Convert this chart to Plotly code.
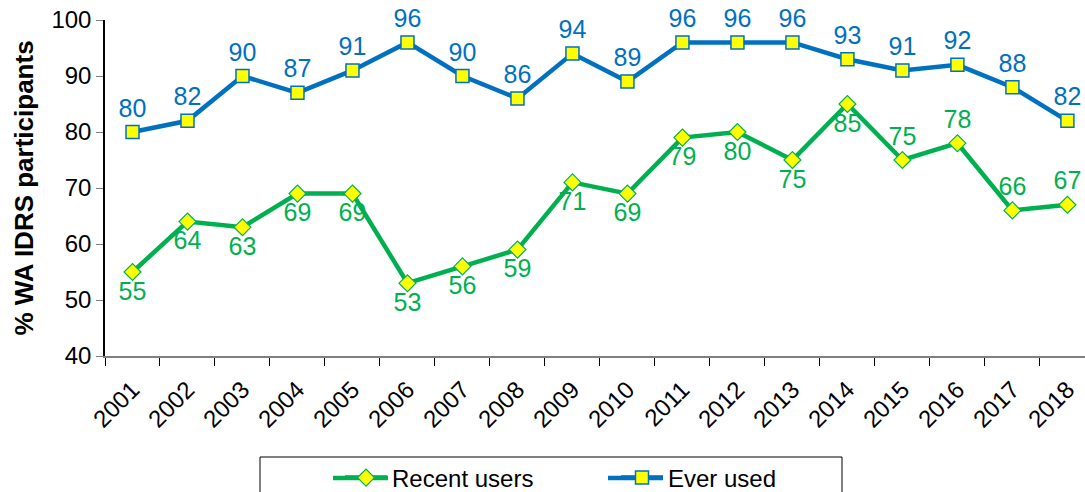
import plotly.graph_objects as go

years = [str(y) for y in range(2001, 2019)]
recent_users = [55, 64, 63, 69, 69, 53, 56, 59, 71, 69, 79, 80, 75, 85, 75, 78, 66, 67]
ever_used = [80, 82, 90, 87, 91, 96, 90, 86, 94, 89, 96, 96, 96, 93, 91, 92, 88, 82]
y_ticks = [40, 50, 60, 70, 80, 90, 100]

BLUE = "#0070C0"
GREEN = "#00B050"
YELLOW = "#FFFF00"
FONT = "Liberation Sans, Arial, sans-serif"

green_pos = ["bottom center"] * 14 + ["top center"] * 4

fig = go.Figure()
fig.add_trace(go.Scatter(
    x=years, y=recent_users, name="Recent users", mode="lines+markers+text",
    line=dict(color=GREEN, width=4.5),
    marker=dict(symbol="diamond", size=13, color=YELLOW, line=dict(color=GREEN, width=1.2)),
    text=[str(v) for v in recent_users], textposition=green_pos,
    textfont=dict(color=GREEN, size=25, family=FONT), cliponaxis=False,
))
fig.add_trace(go.Scatter(
    x=years, y=ever_used, name="Ever used", mode="lines+markers+text",
    line=dict(color=BLUE, width=4.5),
    marker=dict(symbol="square", size=13, color=YELLOW, line=dict(color=BLUE, width=1.5)),
    text=[str(v) for v in ever_used], textposition="top center",
    textfont=dict(color=BLUE, size=25, family=FONT), cliponaxis=False,
))

def px_x(p):
    return (p - 105) / 980

def px_y(p):
    return (356 - p) / 336

leg_y = 478
fig.update_layout(
    width=1085, height=492,
    margin=dict(l=105, r=0, t=20, b=136, autoexpand=False),
    paper_bgcolor="white", plot_bgcolor="white",
    font=dict(family=FONT, color="black"),
    showlegend=True,
    legend=dict(orientation="h", x=px_x(340), xanchor="left", y=px_y(leg_y), yanchor="middle",
                font=dict(size=24, color="black"), entrywidth=219, entrywidthmode="pixels",
                itemwidth=42,
                bgcolor="rgba(0,0,0,0)", borderwidth=0, itemclick=False),
    shapes=[
        dict(type="rect", xref="paper", yref="paper",
             x0=px_x(260), x1=px_x(842), y0=px_y(500), y1=px_y(457),
             line=dict(color="black", width=1), fillcolor="rgba(0,0,0,0)"),
        dict(type="line", xref="paper", yref="paper",
             x0=px_x(333), x1=px_x(388), y0=px_y(leg_y), y1=px_y(leg_y),
             line=dict(color=GREEN, width=4.5)),
        dict(type="line", xref="paper", yref="paper",
             x0=px_x(608), x1=px_x(663), y0=px_y(leg_y), y1=px_y(leg_y),
             line=dict(color=BLUE, width=4.5)),
    ],
)
fig.update_xaxes(
    type="category", range=[-0.5, 17.32], tickangle=-45, automargin=False,
    tickfont=dict(size=24), tickson="boundaries", ticks="outside", ticklen=8,
    ticklabelstandoff=8,
    tickcolor="black", showline=True, linecolor="#808080", linewidth=2,
    showgrid=False, zeroline=False,
)
fig.update_yaxes(
    range=[40, 100], tickvals=y_ticks, tickfont=dict(size=24), automargin=False,
    ticks="outside", ticklen=7, tickcolor="#808080",
    showline=True, linecolor="black", linewidth=1.5, showgrid=False, zeroline=False,
    title=dict(text="<b>% WA IDRS participants</b>", font=dict(size=26), standoff=10),
)

fig.write_html("out.html", config={"displayModeBar": False},
               post_script="document.body.style.margin='0';document.body.style.overflow='hidden';")
